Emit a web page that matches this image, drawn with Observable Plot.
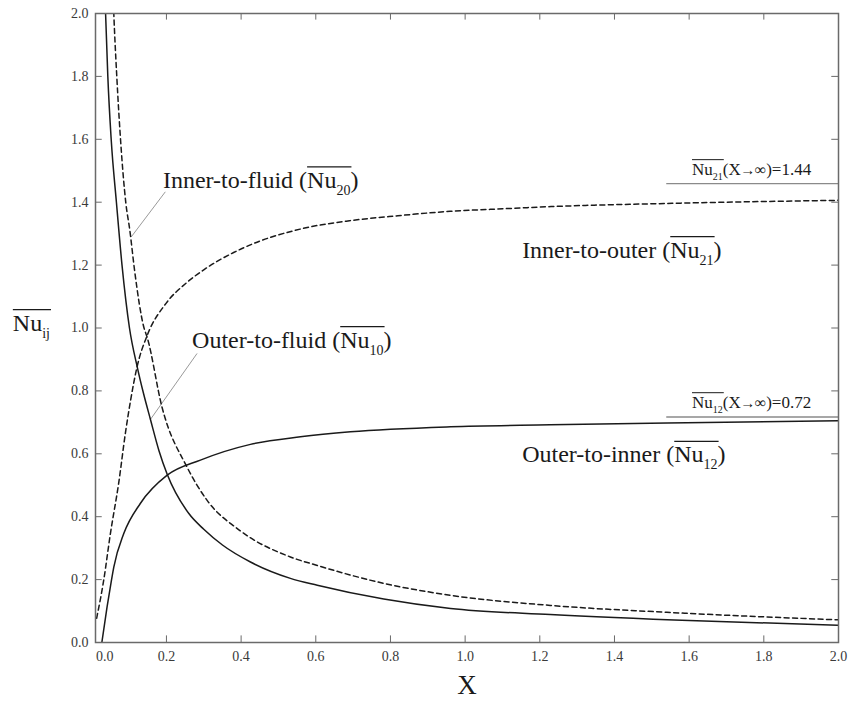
<!DOCTYPE html>
<html><head><meta charset="utf-8">
<script src="https://cdn.jsdelivr.net/npm/d3@7"></script>
<script src="https://cdn.jsdelivr.net/npm/@observablehq/plot@0.6"></script>
<style>
body{margin:0;background:#fff}
#chart svg text{font-family:'Liberation Serif','Times New Roman',serif !important;}
</style>
</head><body><div id="chart"></div>
<script>
// ---- data ----
const nu10X = [0.031,0.037,0.043,0.052,0.066,0.081,0.101,0.122,0.139,0.157,0.18,0.202,0.26,0.30,0.35,0.425,0.532,0.604,0.782,0.961,1.228,1.62,2.0];
const nu10Y = [2.25,2.0,1.8,1.6,1.4,1.2,1.0,0.875,0.79,0.71,0.61,0.535,0.41,0.36,0.31,0.256,0.204,0.182,0.138,0.108,0.089,0.069,0.055];

const nu20X = [0.052,0.059,0.067,0.077,0.091,0.102,0.115,0.14,0.148,0.188,0.255,0.309,0.398,0.532,0.604,0.782,0.961,1.228,1.54,2.0];
const nu20Y = [2.25,2.0,1.8,1.6,1.4,1.31,1.18,1.0,0.972,0.749,0.558,0.452,0.355,0.272,0.245,0.188,0.150,0.118,0.096,0.072];

const nu21X = [0.013,0.032,0.050,0.072,0.090,0.104,0.122,0.148,0.2,0.25,0.3,0.38,0.42,0.56,0.69,0.82,0.96,1.1,1.23,1.54,2.0];
const nu21Y = [0.077,0.198,0.347,0.506,0.665,0.77,0.88,0.975,1.08,1.14,1.185,1.24,1.262,1.315,1.341,1.357,1.371,1.379,1.386,1.396,1.406];

const nu12X = [0.027,0.041,0.053,0.059,0.086,0.13,0.202,0.291,0.425,0.559,0.693,0.961,1.228,1.541,2.0];
const nu12Y = [0,0.113,0.2,0.24,0.347,0.442,0.532,0.58,0.63,0.654,0.67,0.686,0.692,0.698,0.705];

const xTicks = [0.2,0.4,0.6,0.8,1.0,1.2,1.4,1.6,1.8];
const xLabelPos = [0.035,0.2,0.4,0.6,0.8,1.0,1.2,1.4,1.6,1.8,2.0];
const xLabels = ["0.0","0.2","0.4","0.6","0.8","1.0","1.2","1.4","1.6","1.8","2.0"];
const yTicks = [0.2,0.4,0.6,0.8,1.0,1.2,1.4,1.6,1.8];
const yLabelPos = [0,0.2,0.4,0.6,0.8,1.0,1.2,1.4,1.6,1.8,2.0];
const yLabels = ["0.0","0.2","0.4","0.6","0.8","1.0","1.2","1.4","1.6","1.8","2.0"];

// curve labels
const labelPrefix = ["Inner-to-fluid (","Outer-to-fluid (","Inner-to-outer (","Outer-to-inner ("];
const labelSub = ["20","10","21","12"];
const labelX = [0.192,0.270,1.154,1.154];
const labelY = [1.444,0.936,1.222,0.571];

// leader lines
const leaderX1 = [0.197,0.282];
const leaderY1 = [1.433,0.919];
const leaderX2 = [0.106,0.157];
const leaderY2 = [1.29,0.709];

// asymptotes
const asymSub = ["21","12"];
const asymValue = ["1.44","0.72"];
const asymRuleY = [1.459,0.717];
const asymRuleX1 = 1.54, asymRuleX2 = 2.0;
const asymLabelX = 1.609;
const asymLabelY = [1.486,0.745];

const yTitleX = -0.21, yTitleY = 0.99;

// ---- build ----
const rows = (xs, ys) => xs.map((x,i)=>({x, y: ys[i]}));
const xMin = 0.01, xMax = 2.0;
const tlx = 0.018, tly = 0.021; // tick length in data units (~6-7px)
const serif = "'Liberation Serif','Times New Roman',serif";
const ink = "#1a1a1a", axisGray = "#6a6a6a";

const plot = Plot.plot({
  width: 849, height: 705,
  marginLeft: 95, marginRight: 11, marginTop: 13, marginBottom: 63,
  style: {fontFamily: serif, background: "#fff", overflow: "visible"},
  x: {domain: [xMin, xMax], label: null},
  y: {domain: [0, 2], label: null},
  marks: [
    Plot.ruleX(xTicks, {x: d=>d, y1: 0, y2: tly, stroke: axisGray, strokeWidth: 1}),
    Plot.ruleX(xTicks, {x: d=>d, y1: 2, y2: 2 - tly, stroke: axisGray, strokeWidth: 1}),
    Plot.ruleY(yTicks, {y: d=>d, x1: xMin, x2: xMin + tlx, stroke: axisGray, strokeWidth: 1}),
    Plot.ruleY(yTicks, {y: d=>d, x1: xMax, x2: xMax - tlx, stroke: axisGray, strokeWidth: 1}),
    Plot.axisX(xLabelPos, {tickSize: 0, tickPadding: 9, fontSize: 14, fill: "#3a3a3a", fontFamily: serif,
      tickFormat: d => xLabels[xLabelPos.indexOf(d)]}),
    Plot.axisY(yLabelPos, {tickSize: 0, tickPadding: 7, fontSize: 14, fill: "#3a3a3a", fontFamily: serif,
      tickFormat: d => yLabels[yLabelPos.indexOf(d)]}),
    Plot.ruleY(asymRuleY, {y: d=>d, x1: asymRuleX1, x2: asymRuleX2, stroke: "#8a8a8a", strokeWidth: 1.3}),
    Plot.link(leaderX1.map((x,i)=>i), {x1: i=>leaderX1[i], y1: i=>leaderY1[i], x2: i=>leaderX2[i], y2: i=>leaderY2[i], stroke: "#9a9a9a", strokeWidth: 1}),
    Plot.line(rows(nu10X, nu10Y), {x: "x", y: "y", stroke: ink, strokeWidth: 1.5, curve: "monotone-x", clip: true}),
    Plot.line(rows(nu12X, nu12Y), {x: "x", y: "y", stroke: ink, strokeWidth: 1.5, curve: "monotone-x", clip: true}),
    Plot.line(rows(nu20X, nu20Y), {x: "x", y: "y", stroke: ink, strokeWidth: 1.5, strokeDasharray: "5,3.5", curve: "monotone-x", clip: true}),
    Plot.line(rows(nu21X, nu21Y), {x: "x", y: "y", stroke: ink, strokeWidth: 1.5, strokeDasharray: "5,3.5", curve: "monotone-x", clip: true}),
    Plot.frame({stroke: axisGray, strokeWidth: 1.5}),
    Plot.text(["X"], {frameAnchor: "bottom", dy: 51, fontSize: 27, fill: ink, fontFamily: serif})
  ]
});
document.getElementById("chart").appendChild(plot);

const svgEl = plot.tagName.toLowerCase() === "svg" ? plot : plot.querySelector("svg");
const sx = plot.scale("x"), sy = plot.scale("y");
const g = d3.select(svgEl).append("g").attr("font-family", serif).attr("fill", ink).attr("text-anchor", "start");

function nuLabel(px, py, prefix, sub, suffixParts, size, subSize, shift, overGap) {
  const t = g.append("text").attr("x", px).attr("y", py).attr("font-size", size).attr("text-anchor", "start");
  t.append("tspan").text(prefix);
  t.append("tspan").text("Nu");
  t.append("tspan").attr("dy", shift).attr("font-size", subSize).text(sub);
  let first = true;
  for (const part of suffixParts) {
    const ts = t.append("tspan").text(part.text);
    if (first) { ts.attr("dy", -shift); first = false; }
    if (part.size) ts.attr("font-size", part.size);
    if (part.dx) ts.attr("dx", part.dx);
  }
  const node = t.node();
  const i0 = prefix.length, i1 = prefix.length + 2 + sub.length - 1;
  const a = node.getStartPositionOfChar(i0).x;
  const b = node.getEndPositionOfChar(i1).x;
  g.append("line").attr("x1", a).attr("x2", b + 1)
    .attr("y1", py - overGap).attr("y2", py - overGap)
    .attr("stroke", ink).attr("stroke-width", size > 20 ? 1.3 : 1);
}

labelPrefix.forEach((p, i) => nuLabel(sx.apply(labelX[i]), sy.apply(labelY[i]), p, labelSub[i], [{text: ")"}], 24, 14, 7, 21));
asymSub.forEach((s, i) => nuLabel(sx.apply(asymLabelX), sy.apply(asymLabelY[i]), "", s,
  [{text: "(X"}, {text: "\u2192", size: 15, dx: -0.5}, {text: "\u221E", size: 16, dx: -0.5}, {text: ")=" + asymValue[i], size: 17}], 17, 10, 5, 15));
nuLabel(sx.apply(yTitleX), sy.apply(yTitleY), "", "ij", [{text: ""}], 24, 14, 7, 21);
</script>
</body></html>
